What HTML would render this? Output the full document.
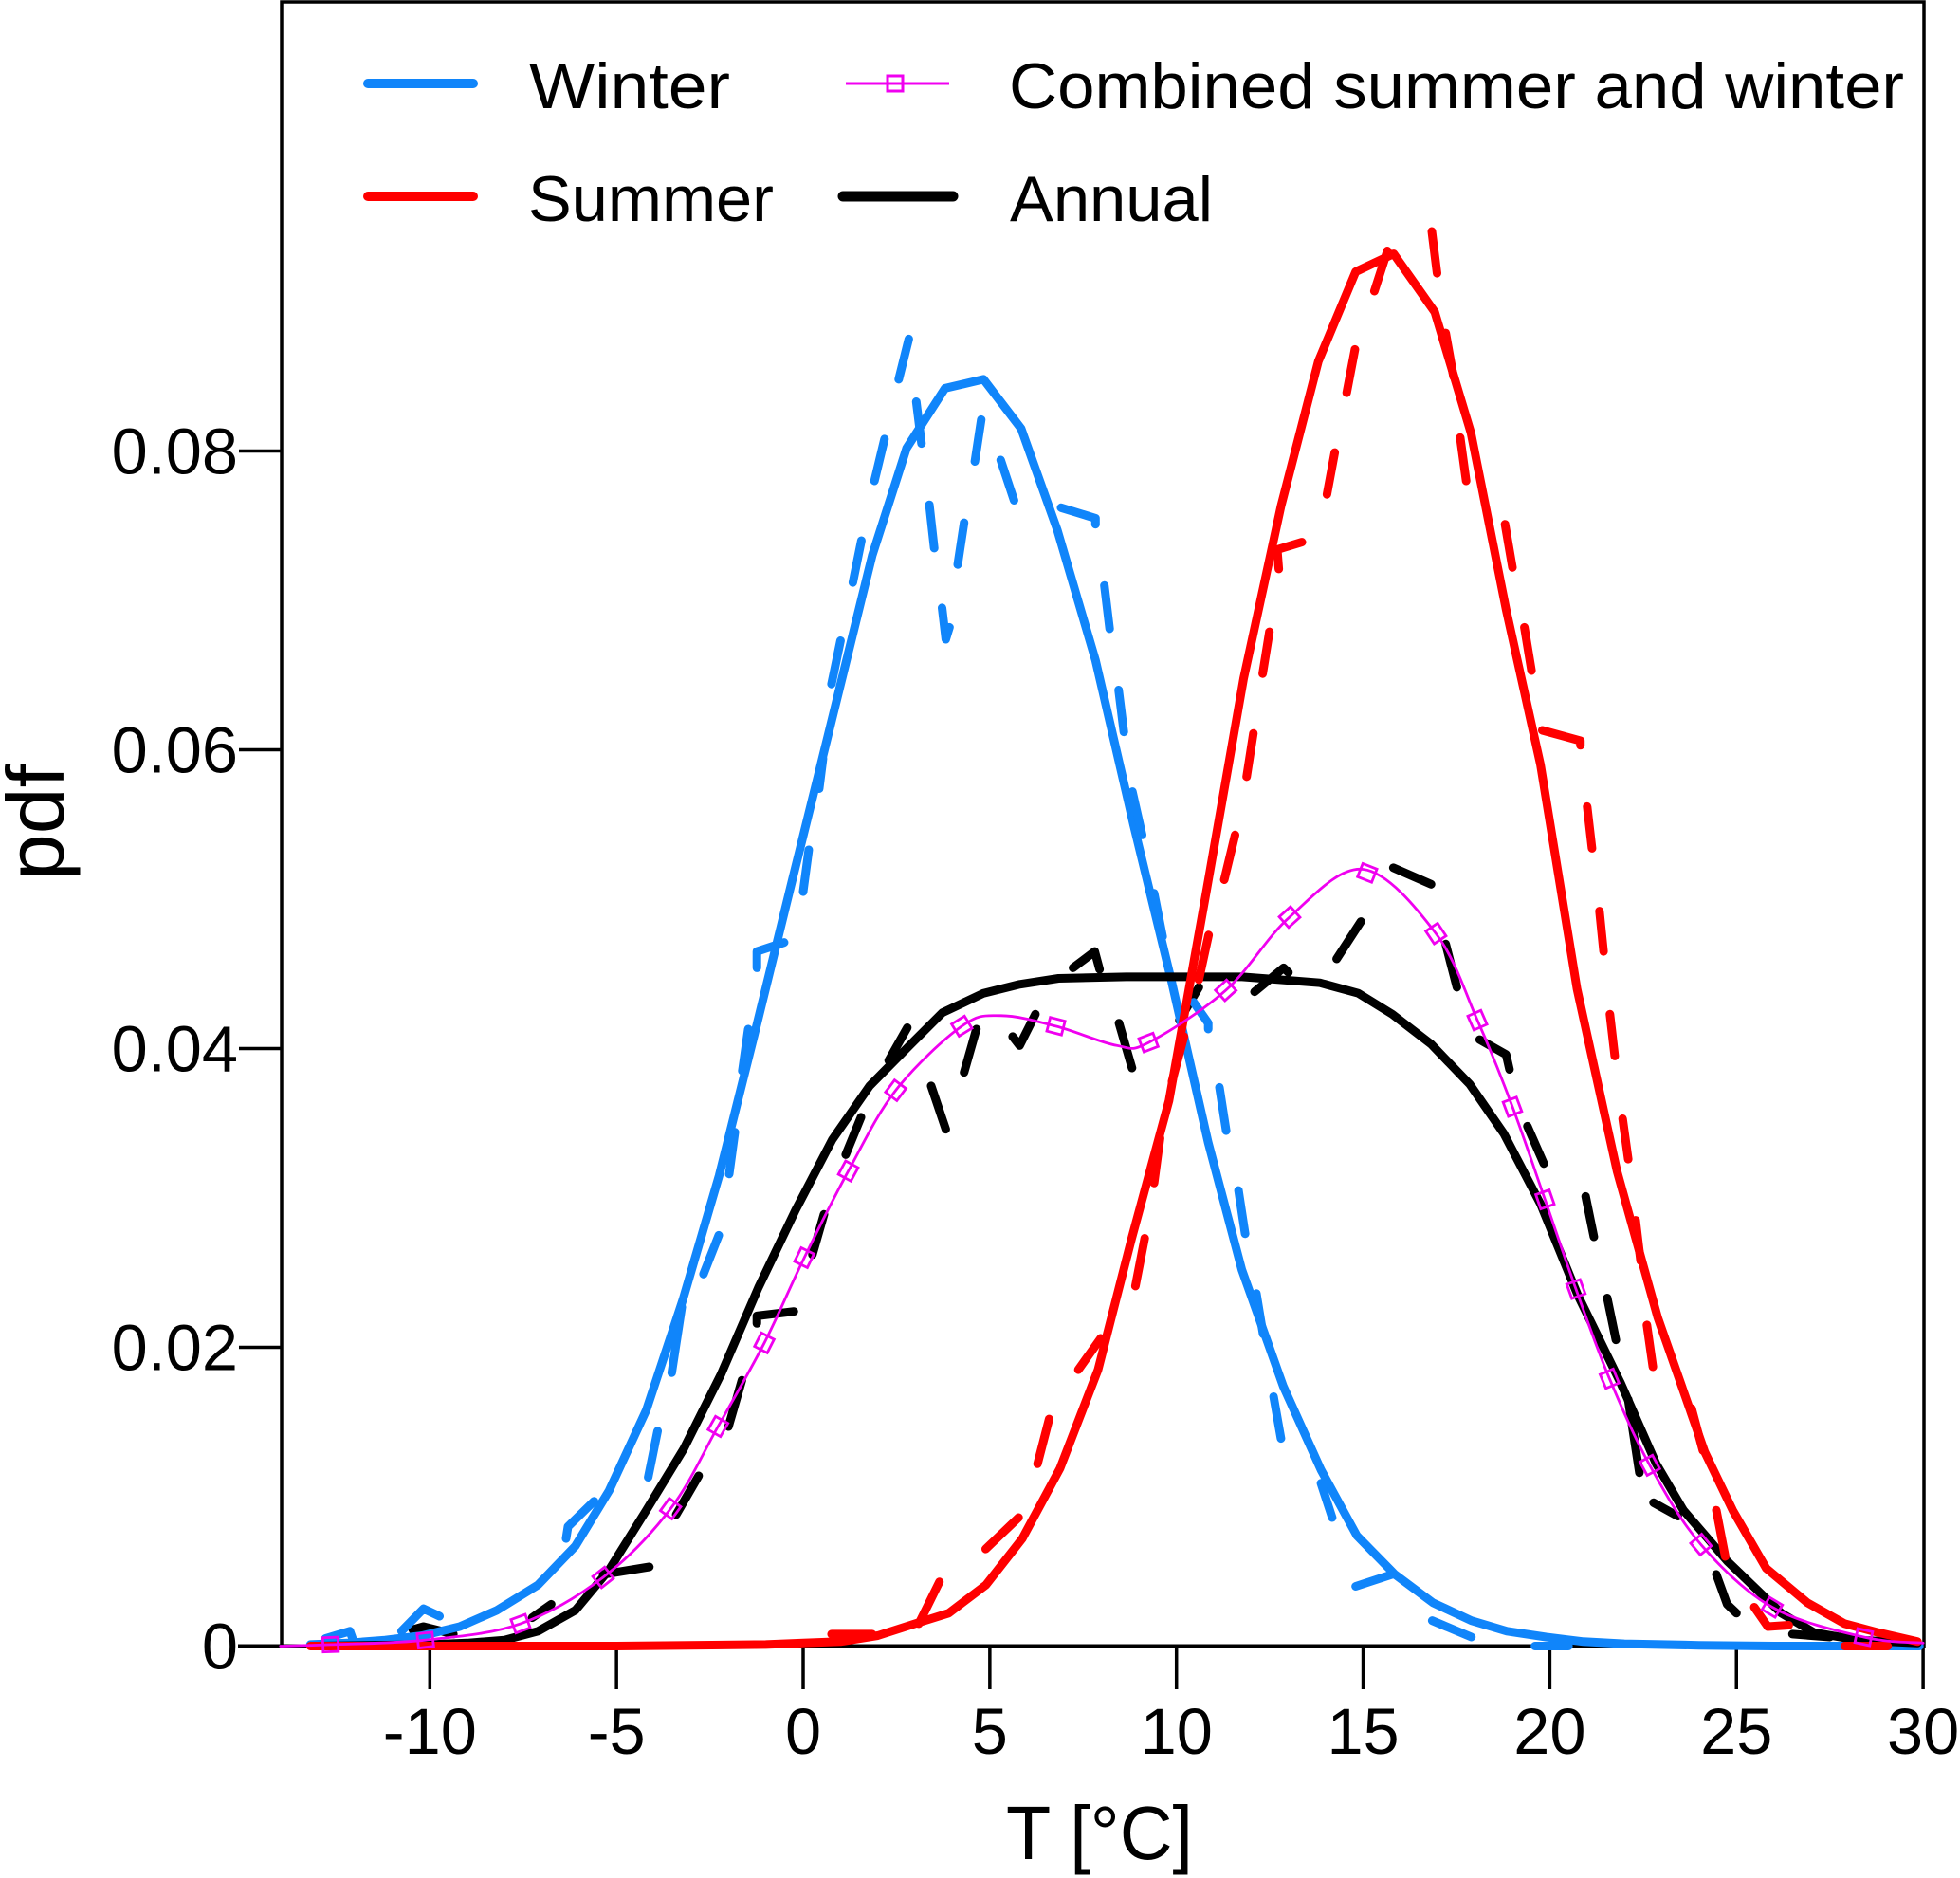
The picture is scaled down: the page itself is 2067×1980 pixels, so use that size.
<!DOCTYPE html>
<html lang="en">
<head>
<meta charset="utf-8">
<title>Temperature pdf chart</title>
<style>
html,body{margin:0;padding:0;background:#fff;}
svg{display:block;}
text{font-family:"Liberation Sans",sans-serif;fill:#000;}
</style>
</head>
<body>
<svg id="chart" xmlns="http://www.w3.org/2000/svg" width="2067" height="1980" viewBox="0 0 2067 1980">
  <rect x="0" y="0" width="2067" height="1980" fill="#fff"/>
  <rect x="297" y="2" width="1732" height="1733.5" fill="none" stroke="#000" stroke-width="3.5"/>
  <line x1="251" y1="1735.5" x2="2029" y2="1735.5" stroke="#000" stroke-width="4"/>
  <g id="ticks"></g>
  <g id="series"></g>
  <text x="1061" y="1960" font-size="80" textLength="197" lengthAdjust="spacingAndGlyphs">T [°C]</text>
  <text transform="translate(67 928) rotate(-90)" font-size="85" textLength="122" lengthAdjust="spacingAndGlyphs">pdf</text>
  <g>
    <line x1="388" y1="88" x2="499" y2="88" stroke="#1085fa" stroke-width="10" stroke-linecap="round"/>
    <text x="558" y="114" font-size="68" textLength="212" lengthAdjust="spacingAndGlyphs">Winter</text>
    <line x1="388" y1="207" x2="499" y2="207" stroke="#ff0000" stroke-width="10" stroke-linecap="round"/>
    <text x="557" y="233" font-size="68" textLength="259" lengthAdjust="spacingAndGlyphs">Summer</text>
    <line x1="892" y1="88" x2="1001" y2="88" stroke="#f000f0" stroke-width="3"/>
    <rect x="936" y="80" width="16" height="16" fill="none" stroke="#f000f0" stroke-width="3"/>
    <text x="1064" y="114" font-size="68" textLength="944" lengthAdjust="spacingAndGlyphs">Combined summer and winter</text>
    <line x1="889" y1="207" x2="1005" y2="207" stroke="#000" stroke-width="11" stroke-linecap="round"/>
    <text x="1065" y="233" font-size="68" textLength="214" lengthAdjust="spacingAndGlyphs">Annual</text>
  </g>
</svg>
<script>
var xTickValues = [-10, -5, 0, 5, 10, 15, 20, 25, 30];
var xTickLabels = ['-10', '-5', '0', '5', '10', '15', '20', '25', '30'];
var yTickValues = [0, 0.02, 0.04, 0.06, 0.08];
var yTickLabels = ['0', '0.02', '0.04', '0.06', '0.08'];

var winterT = [-13.2,-12.2,-11.2,-10.2,-9.2,-8.2,-7.1,-6.1,-5.2,-4.2,-3.22,-2.25,-1.3,-0.3,0.65,1.85,2.77,3.8,4.83,5.84,6.81,7.83,8.85,9.85,10.85,11.75,12.86,13.87,14.83,15.85,16.87,17.9,18.85,19.9,20.9,22,24,26,28,29.9];
var winterPdf = [0.0001,0.0002,0.0004,0.0007,0.0013,0.0024,0.0041,0.0067,0.0104,0.0158,0.0232,0.0315,0.041,0.0512,0.0608,0.073,0.0802,0.0842,0.0848,0.0815,0.0747,0.066,0.055,0.0447,0.0337,0.0252,0.0174,0.0118,0.0074,0.0048,0.0029,0.0017,0.001,0.0006,0.0003,0.00015,0.00005,0,0,0];

var summerT = [-13.2,-10,-5,-1,0,1,2,3,3.9,4.9,5.87,6.88,7.9,8.8,9.8,10.8,11.8,12.8,13.8,14.8,15.82,16.92,17.89,18.83,19.75,20.73,21.8,22.89,24.15,24.9,25.8,26.9,27.9,28.8,29.85];
var summerPdf = [0,0,0,0.0001,0.0002,0.0003,0.0007,0.0015,0.0022,0.0041,0.0072,0.0119,0.0185,0.0273,0.0365,0.0505,0.0648,0.0763,0.086,0.092,0.0932,0.0893,0.0812,0.0694,0.059,0.044,0.0318,0.022,0.013,0.0091,0.0052,0.0029,0.0015,0.0009,0.0003];

var annualT = [-13,-10,-9,-8,-7.1,-6.1,-5.2,-4.2,-3.2,-2.2,-1.2,-0.2,0.78,1.78,2.85,3.73,4.83,5.8,6.84,8.65,11.76,12.8,13.84,14.87,15.78,16.82,17.86,18.77,19.75,20.75,21.9,22.85,23.58,24.75,26.2,27.08,28.25,29.85];
var annualPdf = [0,0.0001,0.0002,0.0004,0.001,0.0024,0.0051,0.0091,0.0132,0.0182,0.024,0.0292,0.0339,0.0375,0.0402,0.0424,0.0437,0.0443,0.0447,0.0448,0.0448,0.0446,0.0444,0.0437,0.0423,0.0403,0.0376,0.0343,0.0296,0.0235,0.0176,0.0122,0.0091,0.0057,0.0022,0.0009,0.0004,0.0002];

var combinedT = [-14,-12.66,-10.12,-7.57,-5.36,-3.55,-2.28,-1.04,0.03,1.21,2.48,4.25,5.3,6.77,8.4,9.25,11.32,13.03,15.0,16.95,18.06,19.0,19.87,20.7,21.6,22.68,24.05,25.96,28.41,30];
var combinedPdf = [0,0.0001,0.0004,0.0015,0.0046,0.0092,0.0147,0.0203,0.026,0.0318,0.0372,0.0415,0.0422,0.0415,0.0402,0.0404,0.0439,0.0488,0.052,0.0477,0.0419,0.0361,0.0299,0.0239,0.0179,0.0121,0.0068,0.0026,0.0006,0.0002];
var combinedMarkerT = [-12.66,-10.12,-7.57,-5.36,-3.55,-2.28,-1.04,0.03,1.21,2.48,4.25,6.77,9.25,11.32,13.03,15.11,16.95,18.06,19.0,19.87,20.7,21.6,22.68,24.05,25.96,28.41];

var winterDashT = [2.83,2.56,null,3.03,3.17,null,2.18,1.91,null,4.77,4.6,null,5.29,5.65,null,6.91,7.83,7.83,null,3.38,3.51,null,4.31,4.14,null,1.56,1.33,null,3.72,3.82,3.92,null,8.07,8.21,null,1.0,0.76,null,8.45,8.59,null,0.53,0.43,null,8.82,9.08,null,0.15,0,null,-0.51,-1.24,-1.24,null,-1.47,-1.63,null,-1.83,-1.98,null,-2.26,-2.67,null,-3.25,-3.52,null,-3.9,-4.15,null,-5.6,-6.3,-6.35,null,-10.76,-10.17,-9.74,null,-12.8,-12.14,-12.07,null,9.4,9.63,null,10.46,10.85,10.85,null,11.15,11.33,null,11.66,11.84,null,12.14,12.32,null,12.6,12.8,null,13.87,14.17,null,14.8,15.78,null,16.85,17.9,null,19.6,20.5];
var winterDashPdf = [0.0875,0.0848,null,0.0833,0.0805,null,0.0808,0.078,null,0.0821,0.0793,null,0.0794,0.0767,null,0.0762,0.0755,0.0751,null,0.0764,0.0735,null,0.0752,0.0724,null,0.074,0.0712,null,0.0695,0.0674,0.0682,null,0.071,0.0681,null,0.0673,0.0644,null,0.064,0.0612,null,0.0594,0.0574,null,0.0572,0.0543,null,0.0533,0.0505,null,0.0471,0.0465,0.0454,null,0.0413,0.0385,null,0.0344,0.0316,null,0.0275,0.0249,null,0.0227,0.0183,null,0.0144,0.0113,null,0.0097,0.008,0.0072,null,0.001,0.0025,0.002,null,0.0005,0.001,0.0005,null,0.0504,0.0475,null,0.0431,0.0417,0.0413,null,0.0374,0.0345,null,0.0305,0.0276,null,0.0236,0.0209,null,0.0167,0.0139,null,0.0109,0.0086,null,0.004,0.0048,null,0.0017,0.0006,null,0,0];

var summerDashT = [16.84,16.98,null,15.65,15.3,null,17.21,17.42,null,14.78,14.56,null,17.6,17.76,null,14.24,14.03,null,18.8,19.0,null,13.36,12.7,12.74,null,19.32,19.51,null,12.49,12.31,null,19.8,20.82,20.82,null,12.06,11.88,null,21.0,21.13,null,21.33,21.44,null,21.61,21.74,null,21.95,22.1,null,22.3,22.43,null,22.6,22.76,null,23.8,24.1,null,24.46,24.7,null,25.48,25.84,26.4,null,27.9,29.05,null,11.57,11.28,null,10.86,10.6,null,10.2,9.88,null,9.56,9.4,null,9.15,8.9,null,7.97,7.37,null,6.59,6.28,null,5.77,4.89,null,3.65,3.1,null,0.76,1.85];
var summerDashPdf = [0.0947,0.0919,null,0.0934,0.0907,null,0.0879,0.085,null,0.0868,0.0839,null,0.0809,0.078,null,0.0799,0.0771,null,0.0751,0.0722,null,0.0739,0.0734,0.0721,null,0.0682,0.0653,null,0.0679,0.0651,null,0.0613,0.0606,0.0603,null,0.0611,0.0582,null,0.0562,0.0534,null,0.0492,0.0465,null,0.0423,0.0395,null,0.0353,0.0326,null,0.0285,0.0258,null,0.0215,0.0187,null,0.0159,0.0131,null,0.0091,0.006,null,0.0026,0.0013,0.0014,null,0,0,null,0.0543,0.0513,null,0.0476,0.0446,null,0.0408,0.0378,null,0.034,0.031,null,0.0273,0.0241,null,0.0206,0.0185,null,0.0152,0.0122,null,0.0086,0.0065,null,0.0043,0.0015,null,0.0008,0.0008];

var annualDashT = [15.81,16.82,null,14.94,14.29,null,12.09,12.87,13.0,null,7.23,7.81,7.94,null,10.6,10.08,null,17.21,17.51,null,8.46,8.81,null,6.22,5.8,5.61,null,4.64,4.31,null,2.79,2.29,null,3.43,3.82,null,1.55,1.14,null,18.12,18.83,18.92,null,19.4,19.84,null,20.96,21.18,null,21.54,21.77,null,22.1,22.4,null,22.78,23.43,null,24.46,24.75,25.0,null,26.5,27.5,null,0.56,0.25,null,-0.25,-1.24,-1.24,null,-1.64,-2.0,null,-2.8,-3.4,null,-4.12,-5.36,null,-6.75,-7.26,null,-10.46,-10.17,-9.37];
var annualDashPdf = [0.0521,0.051,null,0.0485,0.046,null,0.0438,0.0454,0.0451,null,0.0454,0.0465,0.0453,null,0.0441,0.0419,null,0.047,0.0441,null,0.0417,0.0387,null,0.0423,0.0402,0.0408,null,0.0413,0.0384,null,0.0414,0.0392,null,0.0375,0.0346,null,0.0354,0.0329,null,0.0406,0.0396,0.0386,null,0.0348,0.0323,null,0.0301,0.0274,null,0.0233,0.0205,null,0.0165,0.0116,null,0.0096,0.0087,null,0.0048,0.0028,0.0022,null,0.0008,0.0006,null,0.0289,0.0262,null,0.0224,0.0221,0.0216,null,0.0178,0.0147,null,0.0114,0.0088,null,0.0053,0.0048,null,0.0028,0.0019,null,0.0011,0.0013,0.0008];

var NS = 'http://www.w3.org/2000/svg';
var PX_PER_DEG = 39.37;
var PX_PER_PDF = 15750;
function xScale(t) { return 847 + t * PX_PER_DEG; }
function yScale(p) { return 1735.5 - p * PX_PER_PDF; }

function make(tag, attrs, parent) {
  var el = document.createElementNS(NS, tag);
  for (var k in attrs) { el.setAttribute(k, attrs[k]); }
  parent.appendChild(el);
  return el;
}

function polyPath(ts, ps) {
  var d = '';
  var pen = false;
  for (var i = 0; i < ts.length; i++) {
    if (ts[i] === null) { pen = false; continue; }
    d += (pen ? 'L' : 'M') + xScale(ts[i]).toFixed(1) + ' ' + yScale(ps[i]).toFixed(1);
    pen = true;
  }
  return d;
}

function smoothPath(ts, ps) {
  var pts = ts.map(function (t, i) { return [xScale(t), yScale(ps[i])]; });
  var d = 'M' + pts[0][0].toFixed(1) + ' ' + pts[0][1].toFixed(1);
  for (var i = 0; i < pts.length - 1; i++) {
    var p0 = pts[Math.max(i - 1, 0)], p1 = pts[i], p2 = pts[i + 1], p3 = pts[Math.min(i + 2, pts.length - 1)];
    d += 'C' + (p1[0] + (p2[0] - p0[0]) / 6).toFixed(1) + ' ' + (p1[1] + (p2[1] - p0[1]) / 6).toFixed(1) + ' ' +
         (p2[0] - (p3[0] - p1[0]) / 6).toFixed(1) + ' ' + (p2[1] - (p3[1] - p1[1]) / 6).toFixed(1) + ' ' +
         p2[0].toFixed(1) + ' ' + p2[1].toFixed(1);
  }
  return d;
}

function interp(ts, ps, t) {
  if (t <= ts[0]) return ps[0];
  for (var i = 1; i < ts.length; i++) {
    if (t <= ts[i]) {
      var f = (t - ts[i - 1]) / (ts[i] - ts[i - 1]);
      return ps[i - 1] + f * (ps[i] - ps[i - 1]);
    }
  }
  return ps[ps.length - 1];
}

var tickGroup = document.getElementById('ticks');
xTickValues.forEach(function (v, i) {
  var line = make('line', { x1: xScale(v), y1: 1735.5, x2: xScale(v), y2: 1781, stroke: '#000', 'stroke-width': 3.5 }, tickGroup);
  
  
  var label = make('text', { x: xScale(v), y: 1849, 'font-size': 68.5, 'text-anchor': 'middle' }, tickGroup);
  label.textContent = xTickLabels[i];
  
  
});
yTickValues.forEach(function (v, i) {
  var line = make('line', { x1: 252, y1: yScale(v), x2: 297, y2: yScale(v), stroke: '#000', 'stroke-width': 3.5 }, tickGroup);
  
  
  var label = make('text', { x: 251, y: yScale(v) + 24, 'font-size': 68.5, 'text-anchor': 'end' }, tickGroup);
  label.textContent = yTickLabels[i];
  
  
});

var BLUE = '#1085fa', RED = '#ff0000', BLACK = '#000000', MAGENTA = '#f000f0';
var seriesGroup = document.getElementById('series');
var lineStyle = { fill: 'none', 'stroke-linejoin': 'round', 'stroke-linecap': 'round' };
function styled(d, color, width) {
  return { d: d, stroke: color, 'stroke-width': width, fill: lineStyle.fill, 'stroke-linejoin': lineStyle['stroke-linejoin'], 'stroke-linecap': lineStyle['stroke-linecap'] };
}

var annualDash = make('path', styled(polyPath(annualDashT, annualDashPdf), BLACK, 9), seriesGroup);



var winterSolid = make('path', styled(polyPath(winterT, winterPdf), BLUE, 9), seriesGroup);



var winterDash = make('path', styled(polyPath(winterDashT, winterDashPdf), BLUE, 9), seriesGroup);



var annualSolid = make('path', styled(polyPath(annualT, annualPdf), BLACK, 9), seriesGroup);



var summerSolid = make('path', styled(polyPath(summerT, summerPdf), RED, 9), seriesGroup);



var summerDash = make('path', styled(polyPath(summerDashT, summerDashPdf), RED, 9), seriesGroup);



var combinedLine = make('path', styled(smoothPath(combinedT, combinedPdf), MAGENTA, 2.8), seriesGroup);



combinedMarkerT.forEach(function (t) {
  var cx = xScale(t);
  var cy = yScale(interp(combinedT, combinedPdf, t));
  var dx = xScale(t + 0.3) - xScale(t - 0.3);
  var dy = yScale(interp(combinedT, combinedPdf, t + 0.3)) - yScale(interp(combinedT, combinedPdf, t - 0.3));
  var angle = Math.atan2(dy, dx) * 180 / Math.PI;
  var marker = make('rect', { x: cx - 8, y: cy - 7.5, width: 16, height: 15, fill: 'none', stroke: MAGENTA, 'stroke-width': 2.8, transform: 'rotate(' + angle.toFixed(1) + ' ' + cx.toFixed(1) + ' ' + cy.toFixed(1) + ')' }, seriesGroup);
  
  
});
</script>
</body>
</html>
